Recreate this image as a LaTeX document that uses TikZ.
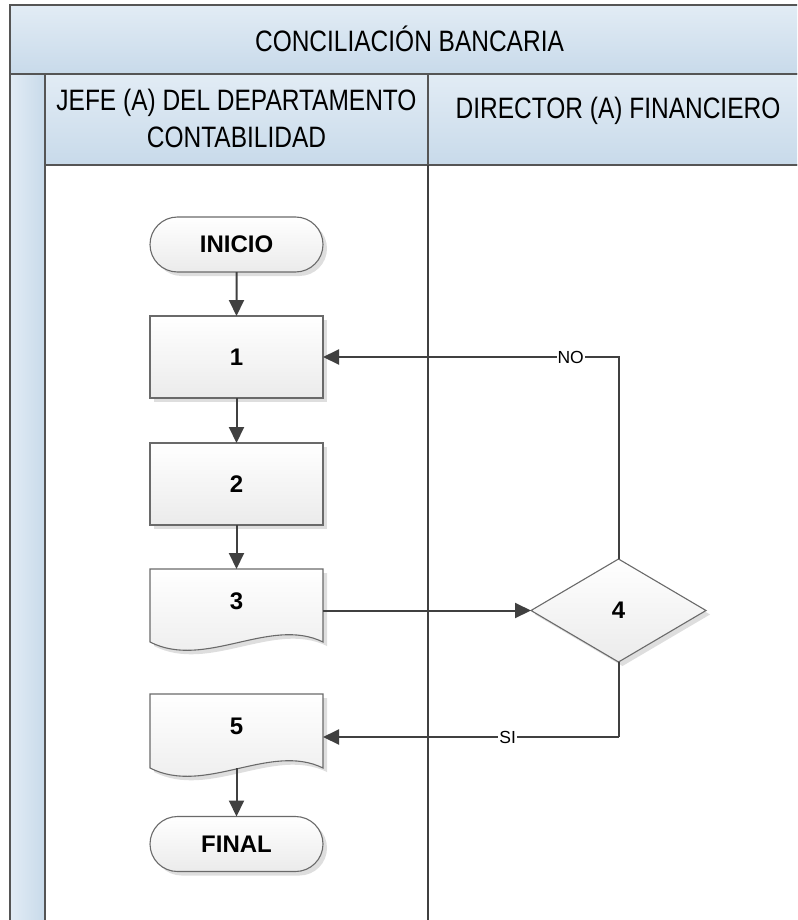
\documentclass[tikz,border=0pt]{standalone}
\usepackage{fontspec}
\setmainfont{Liberation Sans}
\newfontfamily\narrowfont{Liberation Sans}[FakeStretch=0.83]
\usetikzlibrary{arrows.meta,shadows,calc,shapes.geometric,shapes.misc}
\definecolor{linec}{HTML}{404040}
\definecolor{framec}{HTML}{555555}
\definecolor{hdtop}{HTML}{E2ECF5}
\definecolor{hdbot}{HTML}{C8DAEA}
\definecolor{nodebot}{HTML}{EBEBEB}
\definecolor{nodeborder}{HTML}{6A6A6A}
\begin{document}
\begin{tikzpicture}[x=1pt,y=-1pt,
  hdr/.style={draw=framec, line width=2pt, top color=hdtop, bottom color=hdbot},
  hdrtext/.style={font=\narrowfont\fontsize{29.5}{37}\selectfont, align=center, inner sep=0pt},
  nshadow/.style={drop shadow={shadow xshift=4pt, shadow yshift=-4pt, opacity=0.13, fill=black}},
  basenode/.style={draw=nodeborder, line width=1.1pt, top color=white, bottom color=nodebot,
     nshadow, outer sep=0pt, inner sep=0pt, font=\fontsize{24}{26}\selectfont\bfseries},
  procbox/.style={basenode, rectangle, minimum width=173pt, minimum height=82pt},
  termbox/.style={basenode, rounded rectangle, minimum width=173pt, minimum height=55pt},
  decbox/.style={basenode, diamond, minimum width=175pt, minimum height=103pt},
  docbox/.style={rectangle, draw=none, outer sep=0pt, inner sep=0pt, minimum width=173pt,
     text height=17pt, text depth=10pt, font=\fontsize{24}{26}\selectfont\bfseries},
  docshape/.style={draw=nodeborder, line width=1.1pt, top color=white, bottom color=nodebot, nshadow},
  conn/.style={draw=linec, line width=2pt, -{Triangle[length=16pt,width=15pt]}},
  plainconn/.style={draw=linec, line width=2pt},
  lbl/.style={font=\fontsize{17.5}{19}\selectfont, fill=white, inner sep=1pt}
]
\useasboundingbox (0,0) rectangle (797,920);
\clip (0,0) rectangle (797,920);
\fill[white] (0,0) rectangle (797,920);

% swimlane frame
\path[hdr] (10,5) rectangle (808,74);
\path[draw=framec, line width=2pt, left color=hdtop, right color=hdbot] (10,74) rectangle (45,930);
\path[hdr] (45,74) rectangle (428,165);
\path[hdr] (428,74) rectangle (808,165);
\draw[framec, line width=2pt] (45,165) rectangle (808,930);
\draw[linec, line width=1.6pt] (428,165) -- (428,930);

\node[hdrtext] (title) at (409.5,39) {CONCILIACIÓN BANCARIA};
\node[hdrtext, anchor=base] (lane1a) at (236.5,111) {JEFE (A) DEL DEPARTAMENTO};
\node[hdrtext, anchor=base] (lane1b) at (236.5,148) {CONTABILIDAD};
\node[hdrtext] (lane2) at (618,111) {DIRECTOR (A) FINANCIERO};

% nodes
\node[termbox] (inicio) at (236.5,244.5) {INICIO};
\node[procbox] (p1) at (236.5,357) {1};
\node[procbox] (p2) at (236.5,484) {2};

\node[docbox, minimum height=73pt] (d3) at (236.5,605.5) {};
\path[docshape] (d3.north west) -- (d3.north east) -- (d3.south east)
   .. controls ($(d3.south east)+(-53,-26)$) and ($(d3.south west)+(55,28)$) .. (d3.south west) -- cycle;
\node[docbox, minimum height=73pt] (d3t) at (d3) {3};

\node[decbox] (dec) at (618.5,610.5) {4};

\node[docbox, minimum height=74pt] (d5) at (236.5,731) {};
\path[docshape] (d5.north west) -- (d5.north east) -- (d5.south east)
   .. controls ($(d5.south east)+(-53,-26)$) and ($(d5.south west)+(55,28)$) .. (d5.south west) -- cycle;
\node[docbox, minimum height=74pt] (d5t) at (d5) {5};

\node[termbox] (final) at (236.5,844) {FINAL};

% connectors
\draw[conn] (inicio) -- (p1);
\draw[conn] (p1) -- (p2);
\draw[conn] (p2) -- (d3.north);
\draw[conn] (d3.east |- dec.west) -- (dec.west);
\draw[conn] (dec.north) |- node[lbl, pos=0.581] {NO} (p1.east);
\coordinate (sic) at ($(dec.south)+(0,75)$);
\draw[plainconn] (dec.south) -- (sic);
\draw[conn] (sic) -- node[lbl, pos=0.375] {SI} (sic -| d5.east);
\draw[conn] (d5.south) -- (final.north);
\end{tikzpicture}
\end{document}
